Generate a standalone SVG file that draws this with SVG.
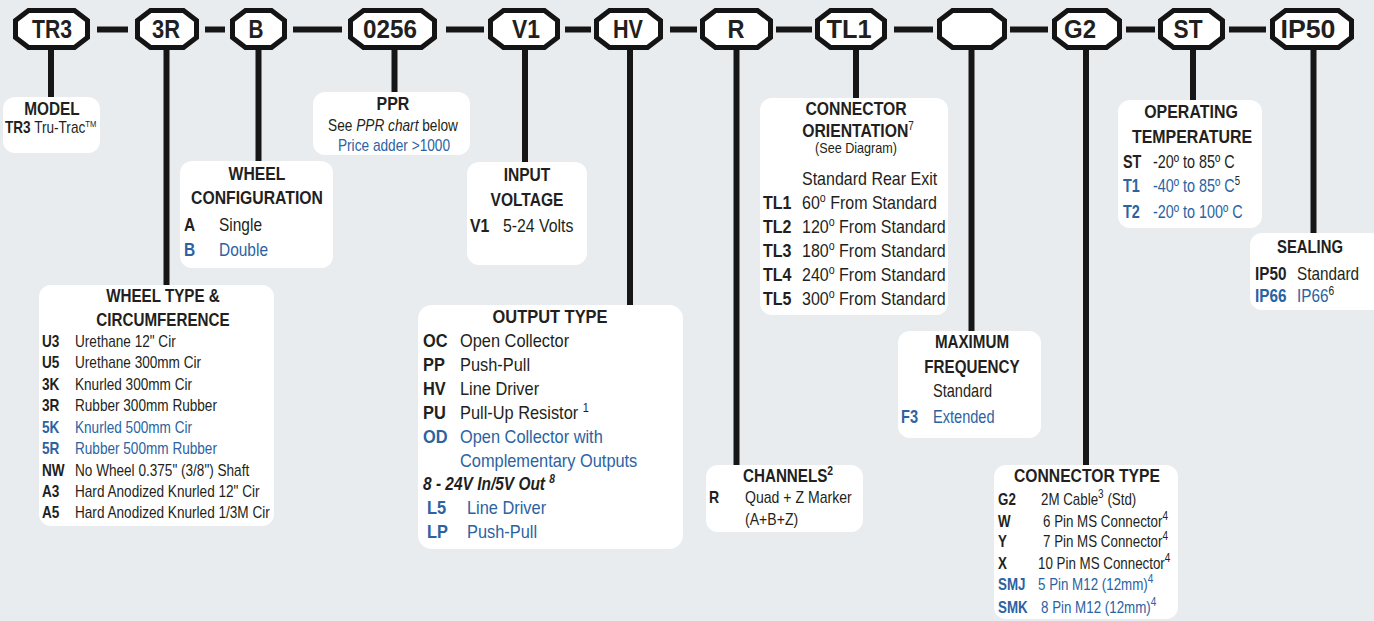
<svg xmlns="http://www.w3.org/2000/svg" width="1374" height="621" viewBox="0 0 1374 621">
<defs>
<style>
text{font-family:'Liberation Sans','Arial',sans-serif;fill:#231f20}
.oct{fill:#fff;stroke:#141414;stroke-width:5;stroke-linejoin:miter}
.lab{font-size:25px;font-weight:bold;text-anchor:middle}
.box{fill:#fff}
.h{font-size:19px;font-weight:bold;text-anchor:middle}
.hs{font-size:19px;font-weight:bold}
.t{font-size:18px}
.s{font-size:16px}
.b{font-weight:bold}
.bl{fill:#2b63a2}
.con{stroke:#161616;stroke-width:6;fill:none}
</style>
</defs>
<rect width="1374" height="621" fill="#e9ecee"/>
<g id="connectors">
<path class="con" d="M97 29.5H128M205 29.5H225M293 29.5H342M446 29.5H484M565 29.5H591M670 29.5H697M776 29.5H812M894 29.5H933M1010 29.5H1048M1126 29.5H1155M1229 29.5H1266"/>
<path class="con" d="M51 50V97M166.5 50V285M258.5 50V161M394.5 50V92M525 50V162M630 50V305M736.5 50V465M856 50V98M971.5 50V331M1086 50V465M1193 50V100M1313.5 50V233"/>
</g>
<g id="n-tr3"><path class="oct" d="M28.5 10.5H74.5L87.5 20.5V37.5L74.5 47.5H28.5L15.5 37.5V20.5Z"/><text class="lab" x="52" y="38" textLength="40" lengthAdjust="spacingAndGlyphs">TR3</text></g>
<g id="n-3r"><path class="oct" d="M150.5 10.5H183.5L196.5 20.5V37.5L183.5 47.5H150.5L137.5 37.5V20.5Z"/><text class="lab" x="166" y="38" textLength="28" lengthAdjust="spacingAndGlyphs">3R</text></g>
<g id="n-b"><path class="oct" d="M245.5 10.5H271.5L284.5 20.5V37.5L271.5 47.5H245.5L232.5 37.5V20.5Z"/><text class="lab" x="256" y="38" textLength="15" lengthAdjust="spacingAndGlyphs">B</text></g>
<g id="n-0256"><path class="oct" d="M363.5 10.5H421.5L434.5 20.5V37.5L421.5 47.5H363.5L350.5 37.5V20.5Z"/><text class="lab" x="390" y="38" textLength="54" lengthAdjust="spacingAndGlyphs">0256</text></g>
<g id="n-v1"><path class="oct" d="M503.5 10.5H544.5L557.5 20.5V37.5L544.5 47.5H503.5L490.5 37.5V20.5Z"/><text class="lab" x="526" y="38" textLength="28" lengthAdjust="spacingAndGlyphs">V1</text></g>
<g id="n-hv"><path class="oct" d="M609.5 10.5H647.5L660.5 20.5V37.5L647.5 47.5H609.5L596.5 37.5V20.5Z"/><text class="lab" x="628" y="38" textLength="30" lengthAdjust="spacingAndGlyphs">HV</text></g>
<g id="n-r"><path class="oct" d="M715.5 10.5H757.5L770.5 20.5V37.5L757.5 47.5H715.5L702.5 37.5V20.5Z"/><text class="lab" x="736" y="38" textLength="17" lengthAdjust="spacingAndGlyphs">R</text></g>
<g id="n-tl1"><path class="oct" d="M830.5 10.5H871.5L884.5 20.5V37.5L871.5 47.5H830.5L817.5 37.5V20.5Z"/><text class="lab" x="849" y="38" textLength="45" lengthAdjust="spacingAndGlyphs">TL1</text></g>
<g id="n-blank"><path class="oct" d="M952.5 10.5H991.5L1004.5 20.5V37.5L991.5 47.5H952.5L939.5 37.5V20.5Z"/></g>
<g id="n-g2"><path class="oct" d="M1067.5 10.5H1106.5L1119.5 20.5V37.5L1106.5 47.5H1067.5L1054.5 37.5V20.5Z"/><text class="lab" x="1080" y="38" textLength="32" lengthAdjust="spacingAndGlyphs">G2</text></g>
<g id="n-st"><path class="oct" d="M1173.5 10.5H1209.5L1222.5 20.5V37.5L1209.5 47.5H1173.5L1160.5 37.5V20.5Z"/><text class="lab" x="1188" y="38" textLength="29" lengthAdjust="spacingAndGlyphs">ST</text></g>
<g id="n-ip50"><path class="oct" d="M1285.5 10.5H1338.5L1351.5 20.5V37.5L1338.5 47.5H1285.5L1272.5 37.5V20.5Z"/><text class="lab" x="1308" y="38" textLength="55" lengthAdjust="spacingAndGlyphs">IP50</text></g>

<g id="model">
<rect class="box" x="3" y="97" width="97" height="56" rx="12"/>
<text class="h" transform="translate(52 115) scale(.81 1)">MODEL</text>
<text class="s" transform="translate(5 133) scale(.85 1)"><tspan class="b">TR3</tspan> Tru-Trac<tspan font-size="9" dy="-6">TM</tspan></text>
</g>
<g id="ppr">
<rect class="box" x="313" y="92" width="157" height="63" rx="12"/>
<text class="h" transform="translate(393 110) scale(.84 1)">PPR</text>
<text class="s" transform="translate(393 131) scale(.855 1)" text-anchor="middle">See <tspan font-style="italic">PPR chart</tspan> below</text>
<text class="s bl" transform="translate(394 151) scale(.855 1)" text-anchor="middle">Price adder &gt;1000</text>
</g>
<g id="wheel-config">
<rect class="box" x="180" y="161" width="153" height="107" rx="12"/>
<text class="h" transform="translate(257 180) scale(.83 1)">WHEEL</text>
<text class="h" transform="translate(257 204) scale(.83 1)">CONFIGURATION</text>
<text class="t b" transform="translate(184 231) scale(.86 1)">A</text><text class="t" transform="translate(219 231) scale(.86 1)">Single</text>
<text class="t b bl" transform="translate(184 256) scale(.86 1)">B</text><text class="t bl" transform="translate(219 256) scale(.86 1)">Double</text>
</g>
<g id="wheel-type">
<rect class="box" x="39" y="285" width="235" height="241" rx="12"/>
<text class="h" transform="translate(163 302) scale(.8 1)">WHEEL TYPE &amp;</text>
<text class="h" transform="translate(163 326) scale(.8 1)">CIRCUMFERENCE</text>
<text class="s b" transform="translate(42 347) scale(.85 1)">U3</text><text class="s" transform="translate(75 347) scale(.85 1)">Urethane 12" Cir</text>
<text class="s b" transform="translate(42 368) scale(.85 1)">U5</text><text class="s" transform="translate(75 368) scale(.85 1)">Urethane 300mm Cir</text>
<text class="s b" transform="translate(42 390) scale(.85 1)">3K</text><text class="s" transform="translate(75 390) scale(.85 1)">Knurled 300mm Cir</text>
<text class="s b" transform="translate(42 411) scale(.85 1)">3R</text><text class="s" transform="translate(75 411) scale(.85 1)">Rubber 300mm Rubber</text>
<text class="s b bl" transform="translate(42 433) scale(.85 1)">5K</text><text class="s bl" transform="translate(75 433) scale(.85 1)">Knurled 500mm Cir</text>
<text class="s b bl" transform="translate(42 454) scale(.85 1)">5R</text><text class="s bl" transform="translate(75 454) scale(.85 1)">Rubber 500mm Rubber</text>
<text class="s b" transform="translate(42 476) scale(.85 1)">NW</text><text class="s" transform="translate(75 476) scale(.85 1)">No Wheel 0.375" (3/8") Shaft</text>
<text class="s b" transform="translate(42 497) scale(.85 1)">A3</text><text class="s" transform="translate(75 497) scale(.85 1)">Hard Anodized Knurled 12" Cir</text>
<text class="s b" transform="translate(42 518) scale(.85 1)">A5</text><text class="s" transform="translate(75 518) scale(.85 1)">Hard Anodized Knurled 1/3M Cir</text>
</g>
<g id="input-voltage">
<rect class="box" x="467" y="162" width="120" height="103" rx="12"/>
<text class="h" transform="translate(527 181) scale(.82 1)">INPUT</text>
<text class="h" transform="translate(527 206) scale(.82 1)">VOLTAGE</text>
<text class="t b" transform="translate(470 232) scale(.88 1)">V1</text><text class="t" transform="translate(503 232) scale(.88 1)">5-24 Volts</text>
</g>
<g id="output-type">
<rect class="box" x="418" y="305" width="265" height="244" rx="14"/>
<text class="h" transform="translate(550 323) scale(.865 1)">OUTPUT TYPE</text>
<text class="t b" transform="translate(423 347) scale(.91 1)">OC</text><text class="t" transform="translate(460 347) scale(.91 1)">Open Collector</text>
<text class="t b" transform="translate(423 371) scale(.91 1)">PP</text><text class="t" transform="translate(460 371) scale(.91 1)">Push-Pull</text>
<text class="t b" transform="translate(423 395) scale(.91 1)">HV</text><text class="t" transform="translate(460 395) scale(.91 1)">Line Driver</text>
<text class="t b" transform="translate(423 419) scale(.91 1)">PU</text><text class="t" transform="translate(460 419) scale(.91 1)">Pull-Up Resistor <tspan font-size="12" dy="-7">1</tspan></text>
<text class="t b bl" transform="translate(423 443) scale(.91 1)">OD</text><text class="t bl" transform="translate(460 443) scale(.91 1)">Open Collector with</text>
<text class="t bl" transform="translate(460 467) scale(.91 1)">Complementary Outputs</text>
<text class="t b" transform="translate(423 490) scale(.86 1)" font-style="italic">8 - 24V In/5V Out <tspan font-size="12" dy="-7">8</tspan></text>
<text class="t b bl" transform="translate(427 514) scale(.91 1)">L5</text><text class="t bl" transform="translate(467 514) scale(.91 1)">Line Driver</text>
<text class="t b bl" transform="translate(427 538) scale(.91 1)">LP</text><text class="t bl" transform="translate(467 538) scale(.91 1)">Push-Pull</text>
</g>
<g id="connector-orientation">
<rect class="box" x="760" y="98" width="188" height="217" rx="12"/>
<text class="h" transform="translate(856 115) scale(.83 1)">CONNECTOR</text>
<text class="h" transform="translate(858 137) scale(.83 1)">ORIENTATION<tspan font-size="12" font-weight="normal" dy="-7">7</tspan></text>
<text transform="translate(856 153) scale(.87 1)" font-size="14.5" text-anchor="middle">(See Diagram)</text>
<text class="t" transform="translate(802 185) scale(.89 1)">Standard Rear Exit</text>
<text class="t b" transform="translate(763 209) scale(.89 1)">TL1</text><text class="t" transform="translate(802 209) scale(.89 1)">60<tspan font-size="12" dy="-7">o</tspan><tspan dy="7"> From Standard</tspan></text>
<text class="t b" transform="translate(763 233) scale(.89 1)">TL2</text><text class="t" transform="translate(802 233) scale(.89 1)">120<tspan font-size="12" dy="-7">o</tspan><tspan dy="7"> From Standard</tspan></text>
<text class="t b" transform="translate(763 257) scale(.89 1)">TL3</text><text class="t" transform="translate(802 257) scale(.89 1)">180<tspan font-size="12" dy="-7">o</tspan><tspan dy="7"> From Standard</tspan></text>
<text class="t b" transform="translate(763 281) scale(.89 1)">TL4</text><text class="t" transform="translate(802 281) scale(.89 1)">240<tspan font-size="12" dy="-7">o</tspan><tspan dy="7"> From Standard</tspan></text>
<text class="t b" transform="translate(763 305) scale(.89 1)">TL5</text><text class="t" transform="translate(802 305) scale(.89 1)">300<tspan font-size="12" dy="-7">o</tspan><tspan dy="7"> From Standard</tspan></text>
</g>
<g id="channels">
<rect class="box" x="706" y="465" width="157" height="67" rx="12"/>
<text class="hs" transform="translate(743 482) scale(.8 1)">CHANNELS<tspan font-size="13" dy="-7">2</tspan></text>
<text class="s b" transform="translate(709 503) scale(.88 1)">R</text><text class="s" transform="translate(745 503) scale(.88 1)">Quad + Z Marker</text>
<text class="s" transform="translate(745 525) scale(.88 1)">(A+B+Z)</text>
</g>
<g id="max-frequency">
<rect class="box" x="898" y="331" width="143" height="107" rx="12"/>
<text class="h" transform="translate(972 348) scale(.8 1)">MAXIMUM</text>
<text class="h" transform="translate(972 373) scale(.8 1)">FREQUENCY</text>
<text class="t" transform="translate(933 397) scale(.81 1)">Standard</text>
<text class="t b bl" transform="translate(901 423) scale(.81 1)">F3</text><text class="t bl" transform="translate(933 423) scale(.81 1)">Extended</text>
</g>
<g id="connector-type">
<rect class="box" x="994" y="465" width="184" height="154" rx="12"/>
<text class="h" transform="translate(1087 482) scale(.825 1)">CONNECTOR TYPE</text>
<text class="s b" transform="translate(998 505) scale(.835 1)">G2</text><text class="s" transform="translate(1041 505) scale(.835 1)">2M Cable<tspan font-size="12" dy="-7">3</tspan><tspan dy="7"> (Std)</tspan></text>
<text class="s b" transform="translate(998 527) scale(.835 1)">W</text><text class="s" transform="translate(1043 527) scale(.835 1)">6 Pin MS Connector<tspan font-size="12" dy="-7">4</tspan></text>
<text class="s b" transform="translate(998 547) scale(.835 1)">Y</text><text class="s" transform="translate(1043 547) scale(.835 1)">7 Pin MS Connector<tspan font-size="12" dy="-7">4</tspan></text>
<text class="s b" transform="translate(998 569) scale(.835 1)">X</text><text class="s" transform="translate(1038 569) scale(.835 1)">10 Pin MS Connector<tspan font-size="12" dy="-7">4</tspan></text>
<text class="s b bl" transform="translate(998 590) scale(.835 1)">SMJ</text><text class="s bl" transform="translate(1038 590) scale(.835 1)">5 Pin M12 (12mm)<tspan font-size="12" dy="-7">4</tspan></text>
<text class="s b bl" transform="translate(998 613) scale(.835 1)">SMK</text><text class="s bl" transform="translate(1041 613) scale(.835 1)">8 Pin M12 (12mm)<tspan font-size="12" dy="-7">4</tspan></text>
</g>
<g id="operating-temperature">
<rect class="box" x="1118" y="100" width="144" height="128" rx="12"/>
<text class="h" transform="translate(1191 118) scale(.84 1)">OPERATING</text>
<text class="h" transform="translate(1192 143) scale(.84 1)">TEMPERATURE</text>
<text class="t b" transform="translate(1123 168) scale(.8 1)">ST</text><text class="t" transform="translate(1153 168) scale(.8 1)">-20º to 85º C</text>
<text class="t b bl" transform="translate(1123 192) scale(.8 1)">T1</text><text class="t bl" transform="translate(1153 192) scale(.8 1)">-40º to 85º C<tspan font-size="12" dy="-7" fill="#231f20">5</tspan></text>
<text class="t b bl" transform="translate(1123 218) scale(.8 1)">T2</text><text class="t bl" transform="translate(1153 218) scale(.8 1)">-20º to 100º C</text>
</g>
<g id="sealing">
<rect class="box" x="1250" y="233" width="134" height="77" rx="12"/>
<text class="h" transform="translate(1310 253) scale(.78 1)">SEALING</text>
<text class="t b" transform="translate(1255 280) scale(.85 1)">IP50</text><text class="t" transform="translate(1297 280) scale(.85 1)">Standard</text>
<text class="t b bl" transform="translate(1255 302) scale(.85 1)">IP66</text><text class="t bl" transform="translate(1297 302) scale(.85 1)">IP66<tspan font-size="12" dy="-7" fill="#231f20">6</tspan></text>
</g>
</svg>
